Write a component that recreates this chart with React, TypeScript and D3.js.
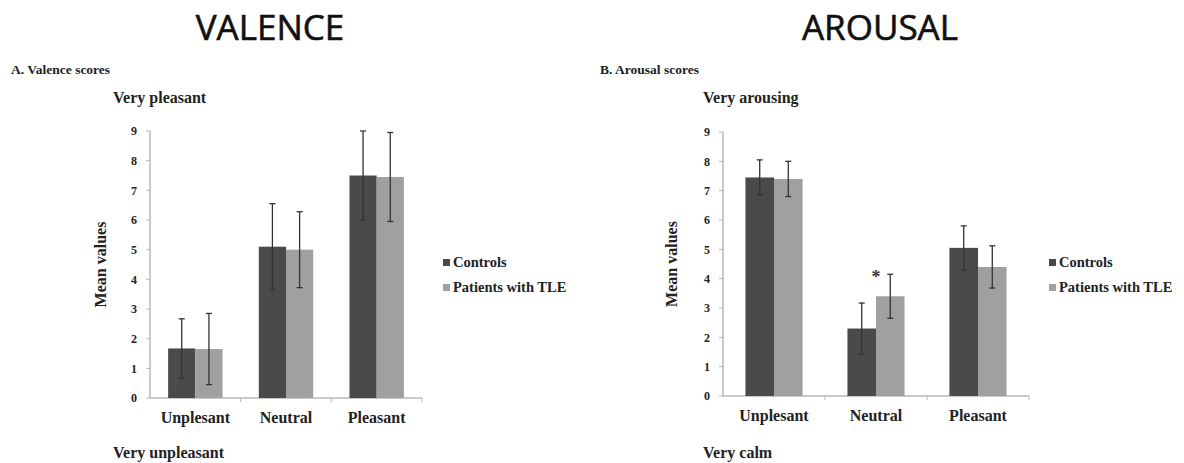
import React from 'react'
import * as d3 from 'd3'

const categories = ['Unplesant', 'Neutral', 'Pleasant']
const series = ['Controls', 'Patients with TLE']
const yTicks = [0, 1, 2, 3, 4, 5, 6, 7, 8, 9]

const valenceControls = [1.67, 5.1, 7.5]
const valenceControlsErr = [1.0, 1.45, 1.5]
const valencePatients = [1.65, 5.0, 7.45]
const valencePatientsErr = [1.2, 1.28, 1.5]

const arousalControls = [7.45, 2.3, 5.05]
const arousalControlsErr = [0.6, 0.87, 0.75]
const arousalPatients = [7.4, 3.4, 4.4]
const arousalPatientsErr = [0.6, 0.75, 0.72]

const colors = ['#4a4a4a', '#a0a0a0']
const serif = '"Liberation Serif", "Times New Roman", serif'

const Panel = ({ x0, x1, y0, y1, pad, values, errs, star, legendX, labelX }) => {
  const x = d3.scaleBand().domain(categories).range([x0, x1]).paddingInner(pad).paddingOuter(pad / 2)
  const xs = d3.scaleBand().domain(series).range([0, x.bandwidth()])
  const y = d3.scaleLinear().domain([0, 9]).range([y0, y1])
  const step = x.step()
  return (
    <g fontFamily={serif} fontWeight="bold">
      {/* axes */}
      <line x1={x0} x2={x0} y1={y(0)} y2={y(9)} stroke="#b8b8b8" strokeWidth={1.5} />
      <line x1={x0} x2={x1} y1={y(0)} y2={y(0)} stroke="#b8b8b8" strokeWidth={1.5} />
      {yTicks.map(t => (
        <g key={t}>
          <line x1={x0 - 4} x2={x0} y1={y(t)} y2={y(t)} stroke="#b8b8b8" />
          <text x={x0 - 13} y={y(t)} dy="0.35em" textAnchor="end" fontSize={12} fill="#222">{t}</text>
        </g>
      ))}
      {categories.map((c, i) => (
        <g key={c}>
          <line x1={x0 + step * (i + 1)} x2={x0 + step * (i + 1)} y1={y(0)} y2={y(0) + 4} stroke="#b8b8b8" />
          <text x={x(c) + x.bandwidth() / 2} y={y(0) + 25} textAnchor="middle" fontSize={16} fill="#222">{c}</text>
        </g>
      ))}
      {/* bars */}
      {series.map((s, si) =>
        categories.map((c, i) => {
          const v = values[si][i]
          const e = errs[si][i]
          const bx = x(c) + xs(s)
          const cx = bx + xs.bandwidth() / 2
          return (
            <g key={s + c}>
              <rect x={bx} y={y(v)} width={xs.bandwidth()} height={y(0) - y(v)} fill={colors[si]} />
              <line x1={cx} x2={cx} y1={y(v + e)} y2={y(v - e)} stroke="#333" strokeWidth={1.3} />
              <line x1={cx - 3} x2={cx + 3} y1={y(v + e)} y2={y(v + e)} stroke="#333" strokeWidth={1.3} />
              <line x1={cx - 3} x2={cx + 3} y1={y(v - e)} y2={y(v - e)} stroke="#333" strokeWidth={1.3} />
            </g>
          )
        })
      )}
      {star !== undefined && (
        <text x={x(categories[star]) + xs.bandwidth()} y={y(4.3)} dy="0.75em" textAnchor="middle" fontSize={18} fill="#333">*</text>
      )}
      <text transform={`translate(${labelX},${(y(0) + y(9)) / 2}) rotate(-90)`} textAnchor="middle" fontSize={16} fill="#222">Mean values</text>
      {/* legend */}
      {series.map((s, si) => (
        <g key={s} transform={`translate(${legendX},${262 + si * 25})`}>
          <rect x={0} y={-3} width={7} height={7} fill={colors[si]} />
          <text x={10} y={0} dy="0.35em" fontSize={14.5} fill="#222">{s}</text>
        </g>
      ))}
    </g>
  )
}

export default function App() {
  return (
    <svg width={1184} height={463} style={{ position: 'absolute', left: 0, top: 0, background: '#fff' }}>
      <g fontFamily='"Open Sans", sans-serif' fontSize={35} fill="#111" stroke="#111" strokeWidth={0.6}>
        <text x={270} y={40} textAnchor="middle">VALENCE</text>
        <text x={880} y={40} textAnchor="middle">AROUSAL</text>
      </g>
      <g fontFamily={serif} fontWeight="bold" fill="#222">
        <text x={11} y={74} fontSize={13.5}>A. Valence scores</text>
        <text x={113} y={103} fontSize={16}>Very pleasant</text>
        <text x={113} y={458} fontSize={16}>Very unpleasant</text>
        <text x={600} y={74} fontSize={13.5}>B. Arousal scores</text>
        <text x={703} y={103} fontSize={16}>Very arousing</text>
        <text x={703} y={458} fontSize={16}>Very calm</text>
      </g>
      <Panel x0={150} x1={422} y0={398} y1={131} pad={0.4}
        values={[valenceControls, valencePatients]} errs={[valenceControlsErr, valencePatientsErr]}
        legendX={443} labelX={106} />
      <Panel x0={723} x1={1029} y0={396} y1={132} pad={0.44}
        values={[arousalControls, arousalPatients]} errs={[arousalControlsErr, arousalPatientsErr]}
        star={1} legendX={1049} labelX={677} />
    </svg>
  )
}
